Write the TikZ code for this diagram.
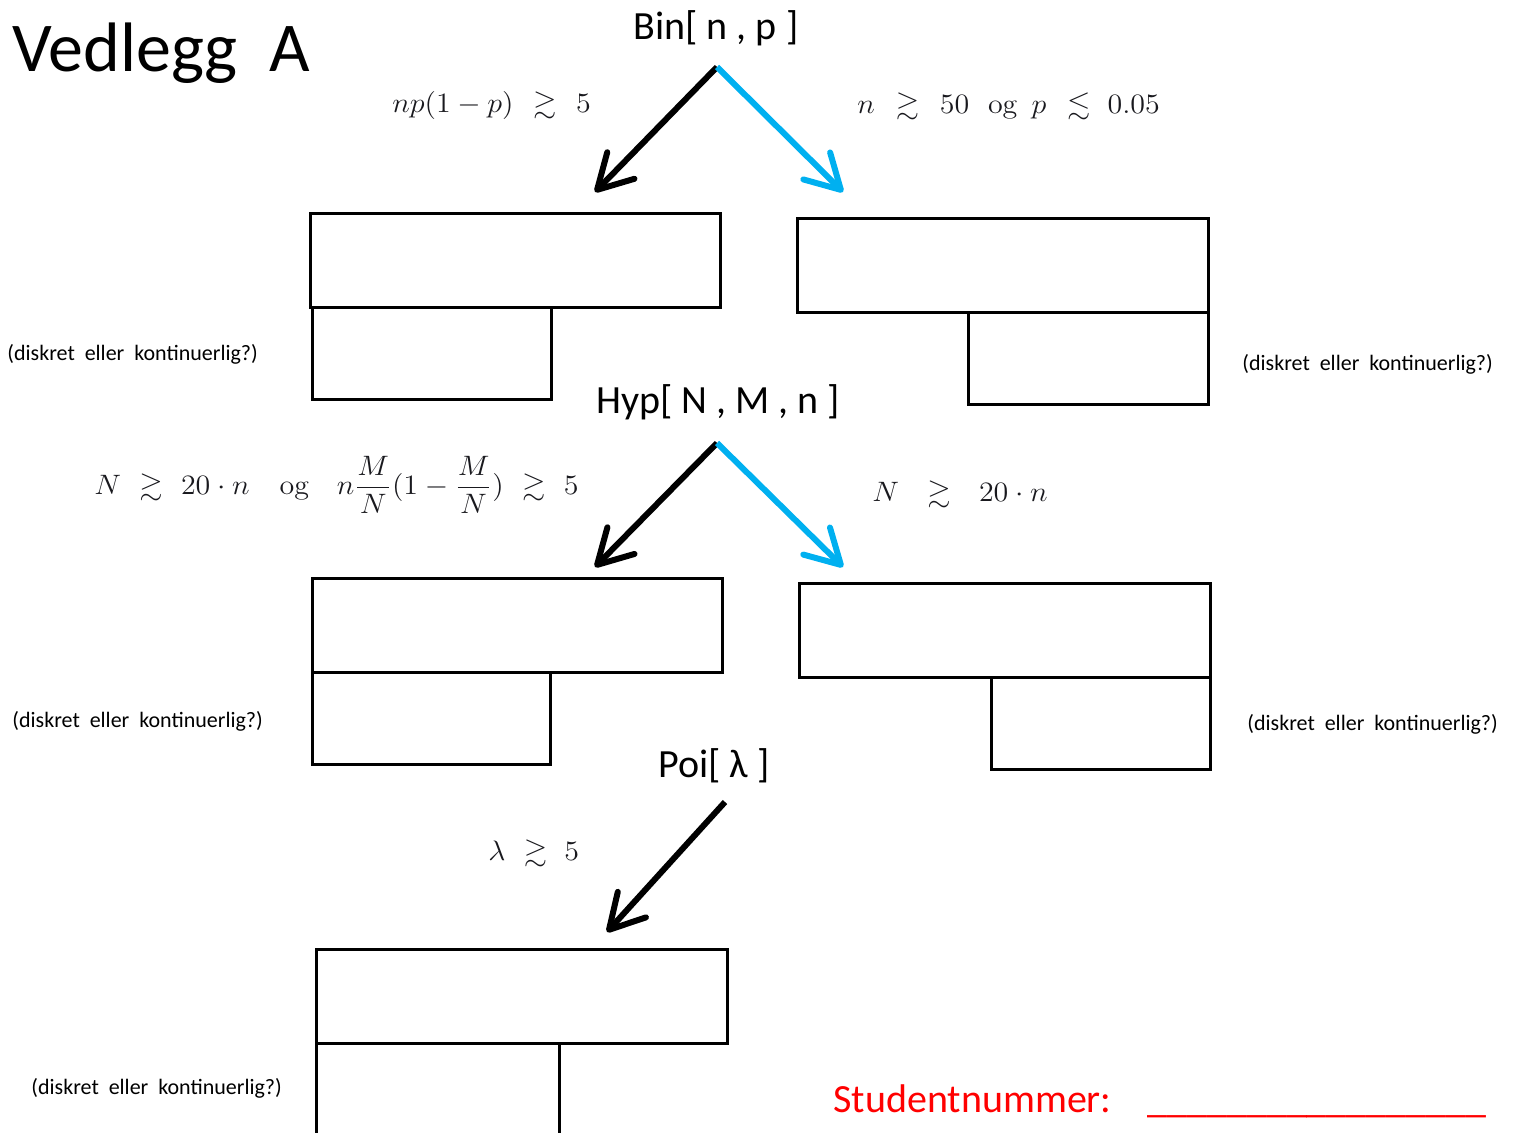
\documentclass[tikz,border=0pt]{standalone}
\usepackage{amsmath,amssymb}
\usepackage[no-math]{fontspec}
\setmainfont{Carlito}
\usepackage{graphicx}
\usetikzlibrary{arrows.meta}
\definecolor{skyblue}{RGB}{0,176,240}
\definecolor{mathgray}{RGB}{25,25,30}
\newcommand{\mexpr}[1]{\scalebox{1.25}[1.17]{\fontsize{12}{14}\selectfont$#1$}}
\begin{document}
\begin{tikzpicture}[x=0.5pt,y=-0.5pt,
  box/.style={draw, line width=1.5pt, inner sep=0pt, rectangle},
  arr/.style={line width=3pt, -{Straight Barb[length=17pt,width=19pt,round]}},
  title/.style={font=\fontsize{20}{24}\selectfont, inner sep=0pt, anchor=base},
  note/.style={font=\fontsize{11}{13}\selectfont, inner sep=0pt, anchor=base west},
  cond/.style={text=mathgray, inner sep=0pt, anchor=west}]
\useasboundingbox (0,0) rectangle (1518,1133);

% heading
\node[inner sep=0pt, anchor=base west, font=\fontsize{35}{42}\selectfont] (head) at (12,72) {Vedlegg\hspace{0.45em}A};

% Bin
\node[title] (bin) at (716,40) {Bin[ n , p ]};
\node[cond] (c1) at (392,105) {\mexpr{np(1-p)\hspace{4.5pt}\gtrsim\hspace{4.5pt}5}};
\node[cond] (c2) at (857,106) {\mexpr{n\hspace{5pt}\gtrsim\hspace{5pt}50\hspace{7.5pt}\mathrm{og}\hspace{5.5pt}p\hspace{5pt}\lesssim\hspace{3.5pt}0.05}};
\coordinate (binS) at (717,67);
\coordinate (binL) at (595,192);
\coordinate (binR) at (843,192);
\draw[arr] (binS) -- (binL);
\draw[arr, skyblue] (binS) -- (binR);

\node[box, minimum width=205pt, minimum height=47pt] (b1t) at (515,261) {};
\node[box, minimum width=119.5pt, minimum height=46pt] (b1b) at (431.5,354) {};
\node[box, minimum width=205.5pt, minimum height=47pt] (b2t) at (1002.5,266) {};
\node[box, minimum width=120pt, minimum height=46pt] (b2b) at (1088,359) {};
\node[note] (d1) at (7,361) {(diskret\hspace{0.45em}eller\hspace{0.45em}kontinuerlig?)};
\node[note] (d2) at (1242,371) {(diskret\hspace{0.45em}eller\hspace{0.45em}kontinuerlig?)};

% Hyp
\node[title] (hyp) at (718,414) {Hyp[ N , M , n ]};
\node[cond] (c3) at (94,485) {\mexpr{N\hspace{4pt}\gtrsim\hspace{4pt}20\cdot n\hspace{12pt}\mathrm{og}\hspace{11pt}n\dfrac{M}{N}(1-\dfrac{M}{N})\hspace{4pt}\gtrsim\hspace{4pt}5}};
\node[cond] (c4) at (872,494) {\mexpr{N\hspace{8pt}\gtrsim\hspace{8pt}20\cdot n}};
\coordinate (hypS) at (717,443);
\coordinate (hypL) at (595,567);
\coordinate (hypR) at (843,567);
\draw[arr] (hypS) -- (hypL);
\draw[arr, skyblue] (hypS) -- (hypR);

\node[box, minimum width=205pt, minimum height=47pt] (b3t) at (517,625) {};
\node[box, minimum width=119pt, minimum height=46pt] (b3b) at (431,718) {};
\node[box, minimum width=205.5pt, minimum height=47pt] (b4t) at (1004.5,630) {};
\node[box, minimum width=109.5pt, minimum height=46pt] (b4b) at (1100.5,723) {};
\node[note] (d3) at (12,727) {(diskret\hspace{0.45em}eller\hspace{0.45em}kontinuerlig?)};
\node[note] (d4) at (1247,730) {(diskret\hspace{0.45em}eller\hspace{0.45em}kontinuerlig?)};

% Poi
\node[title] (poi) at (714,777) {Poi[ λ ]};
\node[cond] (c5) at (488,853) {\mexpr{\lambda\hspace{4pt}\gtrsim\hspace{3.5pt}5}};
\coordinate (poiS) at (725,802);
\coordinate (poiL) at (607,932);
\draw[arr] (poiS) -- (poiL);

\node[box, minimum width=205.5pt, minimum height=47pt] (b5t) at (521.5,996) {};
\node[box, minimum width=121.5pt, minimum height=55pt] (b5b) at (437.5,1098) {};
\node[note] (d5) at (31,1094) {(diskret\hspace{0.45em}eller\hspace{0.45em}kontinuerlig?)};

% student number
\node[inner sep=0pt, anchor=base west, text=red, font=\fontsize{20}{24}\selectfont] (stud) at (833,1112) {Studentnummer:\hspace{18pt}\_\_\_\_\_\_\_\_\_\_\_\_\_\_\_\_\_};
\end{tikzpicture}
\end{document}
